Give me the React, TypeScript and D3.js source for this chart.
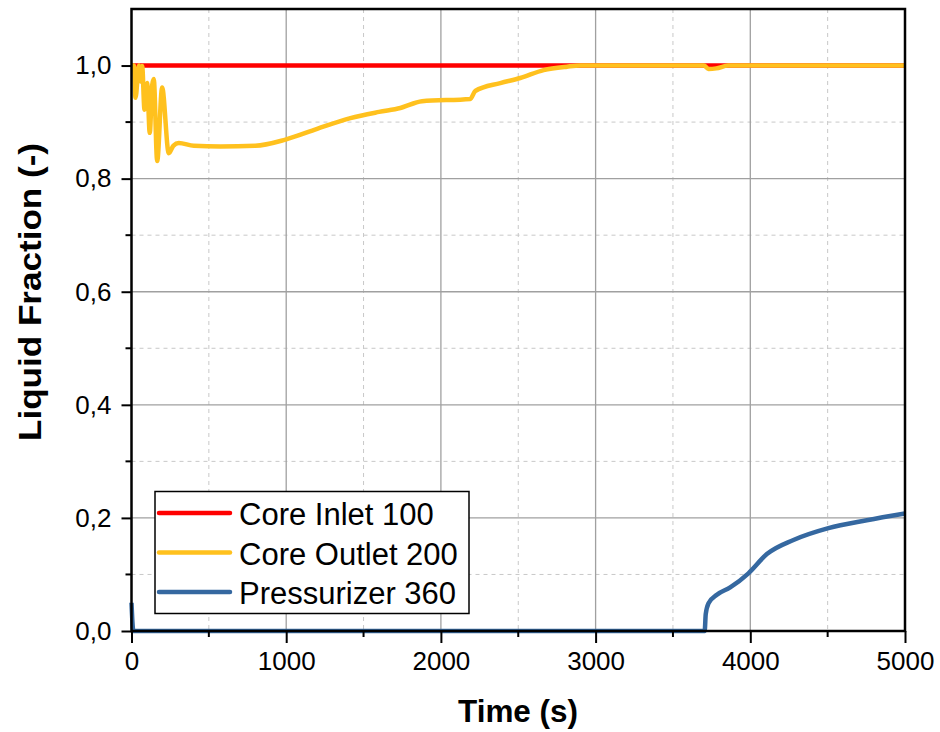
import React, { useEffect, useRef } from 'react';
import * as d3 from 'd3';

// Core Inlet 100
const inletTime = [0, 5000];
const inletValue = [1.0, 1.0];

// Core Outlet 200
const outletTime = [0, 15, 26, 48, 58, 69, 84, 101, 118, 134, 144, 166, 198, 241, 270, 306, 403, 575, 800, 995, 1200, 1415, 1600, 1738, 1878, 2190, 2222, 2384, 2513, 2664, 2815, 2900, 3700, 3730, 3780, 3857, 5000];
const outletValue = [1.0, 1.0, 0.943, 1.0, 0.972, 0.999, 0.922, 0.969, 0.881, 0.966, 0.976, 0.831, 0.961, 0.845, 0.858, 0.863, 0.858, 0.857, 0.858, 0.869, 0.888, 0.907, 0.918, 0.925, 0.937, 0.941, 0.955, 0.969, 0.978, 0.992, 0.998, 1.0, 1.0, 0.994, 0.995, 1.0, 1.0];

// Pressurizer 360
const przTime = [0, 12, 3705, 3712, 3730, 3784, 3870, 3988, 4107, 4279, 4505, 4753, 5000];
const przValue = [0.05, 0, 0, 0.03, 0.049, 0.064, 0.077, 0.102, 0.136, 0.161, 0.182, 0.196, 0.208];

const seriesNames = ['Core Inlet 100', 'Core Outlet 200', 'Pressurizer 360'];
const seriesColors = ['#ff0000', '#ffc11e', '#3568a0'];

const xTicks = [0, 1000, 2000, 3000, 4000, 5000];
const yTicks = [0, 0.2, 0.4, 0.6, 0.8, 1.0];

const App = () => {
  const svgRef = useRef<SVGSVGElement>(null);

  useEffect(() => {
    const width = 940;
    const height = 732;
    const left = 131.5, right = 905, top = 9, bottom = 631;
    const font = '"Liberation Sans", Arial, sans-serif';

    d3.select(svgRef.current).selectAll('*').remove();
    const svg = d3.select(svgRef.current)
      .attr('width', width)
      .attr('height', height);

    const x = d3.scaleLinear().domain([0, 5000]).range([left, right]);
    const y = d3.scaleLinear().domain([0, 1.1]).range([bottom, top]);

    // grid: minor dashed, major solid
    const grid = svg.append('g');
    d3.range(500, 5000, 1000).forEach(t => {
      grid.append('line').attr('x1', x(t)).attr('x2', x(t)).attr('y1', top).attr('y2', bottom)
        .attr('stroke', '#c8c8c8').attr('stroke-dasharray', '4,4');
    });
    d3.range(0.1, 1.1, 0.2).forEach(v => {
      grid.append('line').attr('x1', left).attr('x2', right).attr('y1', y(v)).attr('y2', y(v))
        .attr('stroke', '#c8c8c8').attr('stroke-dasharray', '4,4');
    });
    xTicks.slice(1, -1).forEach(t => {
      grid.append('line').attr('x1', x(t)).attr('x2', x(t)).attr('y1', top).attr('y2', bottom)
        .attr('stroke', '#a0a0a0').attr('stroke-width', 1.3);
    });
    yTicks.slice(1).forEach(v => {
      grid.append('line').attr('x1', left).attr('x2', right).attr('y1', y(v)).attr('y2', y(v))
        .attr('stroke', '#a0a0a0').attr('stroke-width', 1.3);
    });

    // series
    const line = d3.line<[number, number]>()
      .x(d => x(d[0]))
      .y(d => y(d[1]))
      .curve(d3.curveMonotoneX);
    const series = [
      d3.zip(inletTime, inletValue),
      d3.zip(outletTime, outletValue),
      d3.zip(przTime, przValue),
    ] as [number, number][][];
    series.forEach((s, i) => {
      svg.append('path')
        .attr('d', line(s))
        .attr('fill', 'none')
        .attr('stroke', seriesColors[i])
        .attr('stroke-width', 4.5)
        .attr('stroke-linejoin', 'round');
    });

    // axes
    const fmt = (v: number) => d3.format('.1f')(v).replace('.', ',');
    const xAxis = svg.append('g')
      .attr('transform', `translate(0,${bottom})`)
      .call(d3.axisBottom(x).tickValues(xTicks).tickSize(12).tickPadding(9).tickFormat(d3.format('d')));
    const yAxis = svg.append('g')
      .attr('transform', `translate(${left},0)`)
      .call(d3.axisLeft(y).tickValues(yTicks).tickSize(10).tickPadding(10).tickFormat(d => fmt(d as number)));
    [xAxis, yAxis].forEach(a => {
      a.select('.domain').remove();
      a.selectAll('line').attr('stroke', '#000').attr('stroke-width', 2);
      a.selectAll('text').attr('font-family', font).attr('font-size', 26).attr('fill', '#000');
    });
    // minor ticks
    d3.range(500, 5000, 1000).forEach(t => {
      svg.append('line').attr('x1', x(t)).attr('x2', x(t)).attr('y1', bottom).attr('y2', bottom + 6)
        .attr('stroke', '#000').attr('stroke-width', 2);
    });
    d3.range(0.1, 1.1, 0.2).forEach(v => {
      svg.append('line').attr('x1', left - 6).attr('x2', left).attr('y1', y(v)).attr('y2', y(v))
        .attr('stroke', '#000').attr('stroke-width', 2);
    });

    // frame
    svg.append('rect')
      .attr('x', left).attr('y', top)
      .attr('width', right - left).attr('height', bottom - top)
      .attr('fill', 'none').attr('stroke', '#000').attr('stroke-width', 2.5);

    // axis titles
    svg.append('text')
      .attr('x', 518).attr('y', 722)
      .attr('text-anchor', 'middle')
      .attr('font-family', font).attr('font-weight', 'bold').attr('font-size', 31)
      .attr('textLength', 120).attr('lengthAdjust', 'spacingAndGlyphs')
      .text('Time (s)');
    svg.append('text')
      .attr('transform', 'translate(41,292) rotate(-90)')
      .attr('text-anchor', 'middle')
      .attr('font-family', font).attr('font-weight', 'bold').attr('font-size', 31)
      .attr('textLength', 298).attr('lengthAdjust', 'spacingAndGlyphs')
      .text('Liquid Fraction (-)');

    // legend
    const legend = svg.append('g');
    legend.append('rect')
      .attr('x', 155).attr('y', 491.5).attr('width', 314).attr('height', 122)
      .attr('fill', '#fff').attr('stroke', '#000').attr('stroke-width', 1.5);
    seriesNames.forEach((name, i) => {
      const ly = 513 + i * 39.5;
      legend.append('line')
        .attr('x1', 159).attr('x2', 230).attr('y1', ly).attr('y2', ly)
        .attr('stroke', seriesColors[i]).attr('stroke-width', 4.5).attr('stroke-linecap', 'round');
      legend.append('text')
        .attr('x', 239).attr('y', ly + 12)
        .attr('font-family', font).attr('font-size', 31)
        .text(name);
    });
  }, []);

  return (
    <svg ref={svgRef} style={{ position: 'absolute', left: 0, top: 0 }} />
  );
};

export default App;
